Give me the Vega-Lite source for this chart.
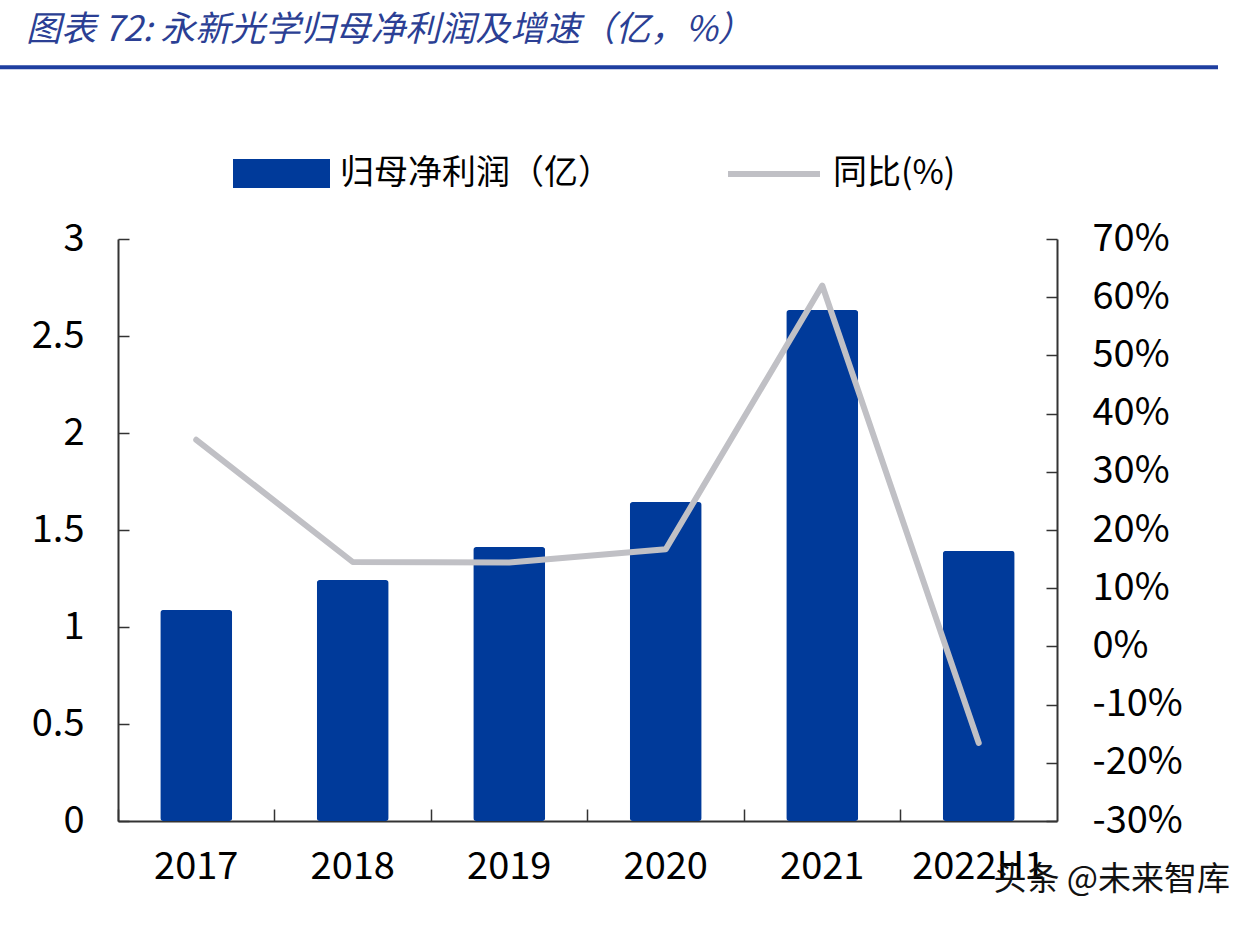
{
  "$schema": "https://vega.github.io/schema/vega-lite/v6.json",
  "width": 939,
  "height": 582,
  "autosize": {"type": "none"},
  "padding": {"left": 118, "top": 239, "right": 201, "bottom": 107},
  "background": "white",
  "config": {"view": {"stroke": null}},
  "title": {
    "text": "图表 72:  永新光学归母净利润及增速（亿，%）",
    "anchor": "start",
    "frame": "group",
    "dx": -92,
    "offset": 17,
    "font": "Noto Sans CJK SC",
    "fontSize": 35,
    "fontStyle": "italic",
    "fontWeight": "normal",
    "color": "#2B3F94"
  },
  "data": {
    "values": [
      {"year": "2017", "profit": 1.088, "yoy": 0.355},
      {"year": "2018", "profit": 1.242, "yoy": 0.145},
      {"year": "2019", "profit": 1.412, "yoy": 0.144},
      {"year": "2020", "profit": 1.644, "yoy": 0.167},
      {"year": "2021", "profit": 2.634, "yoy": 0.62},
      {"year": "2022H1", "profit": 1.392, "yoy": -0.166}
    ]
  },
  "encoding": {
    "x": {
      "field": "year",
      "type": "nominal",
      "sort": null,
      "scale": {"paddingInner": 0, "paddingOuter": 0},
      "axis": {
        "title": null,
        "labelAngle": 0,
        "bandPosition": 0,
        "tickSize": -12,
        "tickColor": "#333333",
        "tickWidth": 1.5,
        "domainColor": "#333333",
        "domainWidth": 2,
        "labelFont": "Noto Sans CJK SC",
        "labelFontSize": 38,
        "labelColor": "#000000",
        "labelPadding": 39
      }
    }
  },
  "layer": [
    {
      "layer": [
        {
          "mark": {"type": "bar", "width": {"band": 0.46}, "cornerRadius": 3},
          "encoding": {
            "y": {
              "field": "profit",
              "type": "quantitative",
              "scale": {"domain": [0, 3], "nice": false, "zero": true},
              "axis": {
                "orient": "left",
                "title": null,
                "values": [0, 0.5, 1, 1.5, 2, 2.5, 3],
                "format": "~g",
                "grid": false,
                "tickSize": -11,
                "tickColor": "#333333",
                "tickWidth": 1.5,
                "domainColor": "#333333",
                "domainWidth": 2,
                "labelFont": "Noto Sans CJK SC",
                "labelFontSize": 38,
                "labelColor": "#000000",
                "labelPadding": 45
              }
            },
            "fill": {
              "datum": "归母净利润（亿）",
              "type": "nominal",
              "scale": {"range": ["#003A9A"]},
              "legend": {
                "title": null,
                "orient": "none",
                "legendX": 115,
                "legendY": -114,
                "symbolType": "M-1,-0.3H1V0.3H-1Z",
                "symbolSize": 9409,
                "symbolStrokeWidth": 0,
                "labelFont": "Noto Sans CJK SC",
                "labelFontSize": 34,
                "labelColor": "#000000",
                "labelOffset": 10,
                "labelLimit": 0,
                "padding": 0
              }
            }
          }
        },
        {
          "data": {"values": [{"lineY": 3.885}]},
          "mark": {"type": "rule", "clip": false, "color": "#1F3FA0", "strokeWidth": 4},
          "encoding": {
            "y": {"field": "lineY", "type": "quantitative"},
            "x": {"value": -118},
            "x2": {"value": 1100}
          }
        },
        {
          "data": {"values": [{"year": "2022H1", "pos": -0.305, "mark": "头条 @未来智库"}]},
          "mark": {"type": "text", "clip": false, "font": "Noto Sans CJK SC", "fontSize": 33, "color": "#111111", "dx": 133},
          "encoding": {
            "x": {"field": "year", "type": "nominal"},
            "y": {"field": "pos", "type": "quantitative"},
            "text": {"field": "mark"}
          }
        }
      ]
    },
    {
      "mark": {"type": "line", "strokeWidth": 6, "strokeCap": "round", "strokeJoin": "round"},
      "encoding": {
        "y": {
          "field": "yoy",
          "type": "quantitative",
          "scale": {"domain": [-0.3, 0.7], "nice": false, "zero": false},
          "axis": {
            "orient": "right",
            "title": null,
            "values": [-0.3, -0.2, -0.1, 0, 0.1, 0.2, 0.3, 0.4, 0.5, 0.6, 0.7],
            "labelExpr": "replace(format(datum.value, '.0%'), '−', '-')",
            "grid": false,
            "tickSize": -11,
            "tickColor": "#333333",
            "tickWidth": 1.5,
            "domainColor": "#333333",
            "domainWidth": 2,
            "labelFont": "Noto Sans CJK SC",
            "labelFontSize": 38,
            "labelColor": "#000000",
            "labelPadding": 46
          }
        },
        "stroke": {
          "datum": "同比(%)",
          "type": "nominal",
          "scale": {"range": ["#C0C0C5"]},
          "legend": {
            "title": null,
            "orient": "none",
            "legendX": 607,
            "legendY": -114,
            "symbolType": "stroke",
            "symbolSize": 8464,
            "symbolStrokeWidth": 6,
            "labelFont": "Noto Sans CJK SC",
            "labelFontSize": 34,
            "labelColor": "#000000",
            "labelOffset": 10,
            "labelLimit": 0,
            "padding": 0
          }
        }
      }
    }
  ],
  "resolve": {"scale": {"y": "independent"}}
}
